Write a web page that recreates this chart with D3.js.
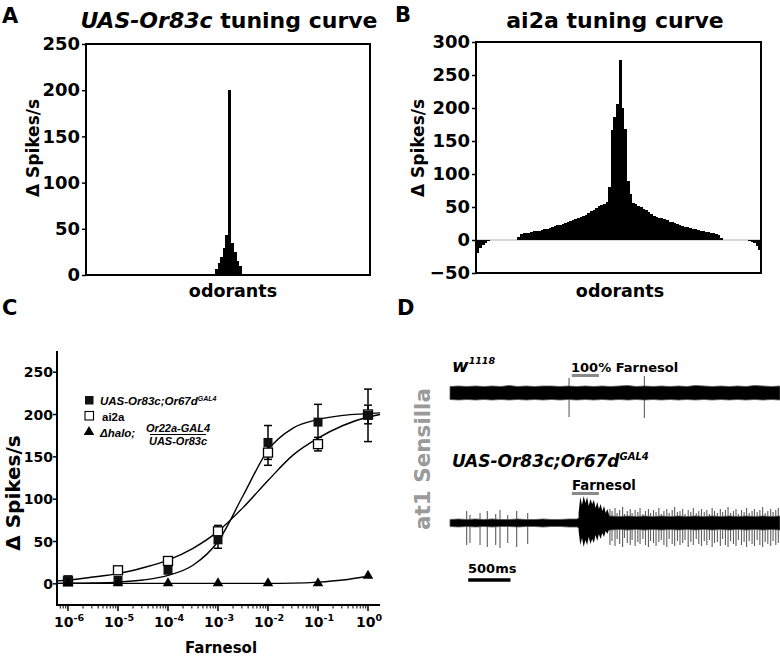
<!DOCTYPE html>
<html><head><meta charset="utf-8">
<script src="https://cdn.jsdelivr.net/npm/d3@7/dist/d3.min.js"></script>
<style>
html,body{margin:0;padding:0;background:#fff}
svg{display:block}
text{font-family:"DejaVu Sans",sans-serif;font-weight:bold;fill:#000}
</style></head><body>
<svg id="fig" width="780" height="656"></svg>
<script>
// ---------------- DATA ----------------
// Panels A/B: tuning curves (110 odorants, responses sorted high -> low)
const odorantCount = 110;
const or83cResponsesSorted = [200, 43, 35, 29, 25, 20, 15, 13, 10, 6];
const ai2aResponsesSorted = [
  273,206,200,186,168,167,90,80,70,57,
  56,55,54,53,52,51,50,48,47,46,
  45,44,43,41,40,38,37,36,35,35,
  34,33,33,32,32,31,30,29,28,27,
  27,26,26,25,24,23,23,22,21,21,
  20,20,19,18,18,17,17,16,16,15,
  15,14,14,14,13,13,12,12,12,11,
  11,11,10,10,9,9,8,4,3,
  0,0,0,0,0,0,0,0,0,0,0,0,0,0,0,0,0,0,0,0,0,
  -1,-2,-3,-4,-5,-7,-9,-12,-15,-19
];
const yTicksA = [0, 50, 100, 150, 200, 250];
const yTicksB = [-50, 0, 50, 100, 150, 200, 250, 300];

// Panel C: dose-response to farnesol
const farnesolConc = [1e-6, 1e-5, 1e-4, 1e-3, 1e-2, 1e-1, 1];
const or83cMean = [5, 4, 16, 52, 167, 191, 199];
const or83cSem  = [2, 2, 3, 10, 20, 21, 31];
const ai2aMean  = [3, 16, 27, 62, 155, 165, 200];
const ai2aSem   = [2, 3, 4, 7, 15, 8, 11];
const haloMean  = [0, 0, 0, 0, 0, 0, 9];
const haloSem   = [0, 0, 0, 0, 0, 0, 1];
// fitted curves (log10 concentration, response)
const fitLogConc = [-6.22,-6,-5.5,-5,-4.5,-4,-3.5,-3,-2.5,-2,-1.5,-1,-0.5,0,0.24];
const or83cFit   = [0.5,0.6,1,2,4.5,10,22,50,104,158,184,194,199,201,202];
const ai2aFit    = [3.5,4.5,8,12,19,28,42,62,90,122,152,172,187,197,200];
const haloFitLogConc = [-6.22,-5,-4,-3,-2,-1.5,-1,-0.5,0];
const haloFit        = [0.5,0.5,0.5,0.5,0.5,0.8,2,4.5,9];
const xTickExponents = [-6,-5,-4,-3,-2,-1,0];
const yTicksC = [0, 50, 100, 150, 200, 250];

// Panel D: recordings (time in ms, amplitudes in arbitrary units)
const traceTimes = d3.range(0, 4000, 100);
const trace1Upper = [6.5,7,6.5,7,6.5,7,6.5,7.5,6.5,7,6.5,7,7,6.5,7,6.5,7,6.5,7,6.5,7,7.5,6.5,7,6.5,7,6.5,7,6.5,7.5,7,6.5,7,6.5,7,6.5,7.5,7,6.5,7];
const trace1Lower = [-6.5,-7,-6.5,-7,-6.5,-7,-6.5,-7,-6.5,-7,-6.5,-7,-6.5,-7,-6.5,-7,-6.5,-7,-6.5,-7,-6.5,-7,-6.5,-7,-6.5,-7,-6.5,-7,-6.5,-7,-6.5,-7,-6.5,-7,-6.5,-7,-6.5,-7,-6.5,-7];
const trace1Spikes = [[1407,15,-24],[2297,17,-25]];
const trace2Upper = [3.5,4,3.5,4,3.5,4,3.5,3.5,4,3.5,3.5,4,3.5,3.5,4,4,8,8,7,7,6.5,7,6.5,7,6.5,7,6.5,7,6.5,7,6.5,7,6.5,7,6.5,7,6.5,7,6.5,7];
const trace2Lower = [-3.5,-4,-3.5,-4,-3.5,-4,-3.5,-3.5,-4,-3.5,-3.5,-4,-3.5,-3.5,-4,-4,-8,-8,-7,-7,-6.5,-7,-6.5,-7,-6.5,-7,-6.5,-7,-6.5,-7,-6.5,-7,-6.5,-7,-6.5,-7,-6.5,-7,-6.5,-7];
const burstTimes = [1520,1540,1560,1580,1600,1620,1640,1660,1680,1700,1720,1740,1760,1780,1800,1820,1840,1860,1880];
const burstUpper = [10,26,18,27,20,26,17,24,19,23,15,21,14,19,12,17,10,14,8];
const burstLower = [-8,-22,-15,-24,-17,-22,-14,-21,-16,-20,-12,-18,-11,-16,-10,-14,-8,-11,-6];
const trace2Spikes = [
  [197,12,-22],[236,8,-20],[355,10,-22],[441,12,-24],[540,9,-22],[591,13,-25],[682,8,-20],[788,12,-24],[918,10,-21],
  [1890,14,-22],[1915,12,-18],[1950,15,-23],[1975,10,-16],[2005,13,-21],[2040,16,-24],[2062,9,-15],[2095,12,-20],
  [2130,14,-22],[2152,10,-17],[2188,13,-23],[2220,11,-19],[2246,15,-21],[2280,9,-16],[2310,12,-22],[2345,14,-24],
  [2370,10,-18],[2405,13,-20],[2435,11,-23],[2468,15,-19],[2497,9,-17],[2528,12,-22],[2562,14,-24],[2590,10,-16],
  [2626,13,-21],[2655,16,-23],[2688,11,-18],[2718,12,-22],[2750,14,-20],[2778,9,-17],[2815,13,-24],[2846,11,-19],
  [2876,15,-22],[2910,10,-16],[2940,12,-21],[2972,14,-23],[3005,11,-18],[3035,13,-22],[3066,9,-17],[3098,15,-24],
  [3126,12,-20],[3160,10,-19],[3195,14,-23],[3222,11,-16],[3255,13,-22],[3286,16,-24],[3316,10,-18],[3350,12,-21],
  [3380,14,-23],[3408,9,-17],[3445,13,-22],[3476,11,-19],[3505,15,-24],[3536,10,-18],[3570,12,-21],[3598,14,-23],
  [3630,11,-17],[3662,13,-22],[3695,16,-24],[3725,10,-19],[3756,12,-21],[3790,14,-23],[3818,11,-18],[3850,13,-22],[3880,15,-20]
];
const stimulus = [1440, 1760];
const scaleBar = [215, 715];

// ---------------- DRAWING ----------------
const svg = d3.select("#fig");
const LS = "'Liberation Sans', Arial, sans-serif";
svg.append("rect").attr("width",780).attr("height",656).attr("fill","#fff");

function tuningOrder(sorted, n) {
  const out = new Array(n).fill(0);
  const center = Math.floor(n / 2);
  sorted.forEach((v, r) => {
    const idx = r % 2 === 1 ? center - (r + 1) / 2 : center + r / 2;
    if (idx >= 0 && idx < n) out[idx] = v;
  });
  return out;
}

function drawTuning(cfg) {
  const g = svg.append("g");
  const x = d3.scaleBand().domain(d3.range(odorantCount)).range([cfg.x0, cfg.x1]).padding(0);
  const y = d3.scaleLinear().domain(cfg.domain).range([cfg.y1, cfg.y0]);
  const vals = tuningOrder(cfg.sorted, odorantCount);
  if (cfg.domain[0] < 0) {
    g.append("line").attr("x1", cfg.x0).attr("x2", cfg.x1).attr("y1", y(0)).attr("y2", y(0))
      .attr("stroke", "#b0b0b0").attr("stroke-width", 1.2);
  }
  g.selectAll("rect.bar").data(vals).join("rect").attr("class","bar")
    .attr("x", (d, i) => x(i)).attr("width", x.bandwidth() + 0.8)
    .attr("y", d => y(Math.max(0, d))).attr("height", d => Math.abs(y(d) - y(0)))
    .attr("fill", "#000").attr("shape-rendering", "crispEdges");
  g.append("rect").attr("x", cfg.x0).attr("y", cfg.y0).attr("width", cfg.x1 - cfg.x0).attr("height", cfg.y1 - cfg.y0)
    .attr("fill", "none").attr("stroke", "#000").attr("stroke-width", 2);
  const ax = g.append("g").attr("transform", `translate(${cfg.x0},0)`)
    .call(d3.axisLeft(y).tickValues(cfg.ticks).tickSize(4).tickPadding(2).tickFormat(d3.format("d")));
  ax.select(".domain").remove();
  ax.selectAll("line").attr("stroke", "#000").attr("stroke-width", 1.5);
  ax.selectAll("text").style("font-family", "DejaVu Sans").style("font-weight", "bold").style("font-size", "18px").attr("fill", "#000");
  g.append("text").attr("transform", `translate(${cfg.ylabX},148) rotate(-90)`).attr("text-anchor", "middle")
    .style("font-size", "17px").text("Δ Spikes/s");
  g.append("text").attr("x", cfg.xlabX).attr("y", 297).attr("text-anchor", "middle").style("font-size", "17.5px").text("odorants");
  return g;
}

// Panel A
drawTuning({x0: 86, x1: 370, y0: 44, y1: 275, domain: [0, 250], ticks: yTicksA, sorted: or83cResponsesSorted, ylabX: 39, xlabX: 233});
const tA = svg.append("text").attr("x", 229).attr("y", 28).attr("text-anchor", "middle").style("font-size", "22px");
tA.append("tspan").style("font-style", "italic").text("UAS-Or83c");
tA.append("tspan").text(" tuning curve");
svg.append("text").attr("x", 2).attr("y", 23).style("font-size", "21px").text("A");

// Panel B
drawTuning({x0: 476, x1: 761, y0: 42, y1: 273, domain: [-50, 300], ticks: yTicksB, sorted: ai2aResponsesSorted, ylabX: 424, xlabX: 620});
svg.append("text").attr("x", 615).attr("y", 28).attr("text-anchor", "middle").style("font-size", "22px").text("ai2a tuning curve");
svg.append("text").attr("x", 395).attr("y", 22).style("font-size", "21px").text("B");

// Panel C
svg.append("text").attr("x", 2).attr("y", 315).style("font-size", "21px").text("C");
const gC = svg.append("g");
const xC = d3.scaleLog().domain([Math.pow(10, -6.22), Math.pow(10, 0.24)]).range([57, 380]);
const yC = d3.scaleLinear().domain([-25, 275]).range([605, 351]);
const minor = [];
for (let e = -7; e <= 0; e++) for (let m = 2; m <= 9; m++) { const v = m * Math.pow(10, e); if (v >= xC.domain()[0] && v <= xC.domain()[1]) minor.push(v); }
gC.selectAll("line.minor").data(minor).join("line").attr("class","minor")
  .attr("x1", d => xC(d)).attr("x2", d => xC(d)).attr("y1", 605).attr("y2", 608.5).attr("stroke", "#000").attr("stroke-width", 1);
gC.selectAll("line.major").data(xTickExponents).join("line").attr("class","major")
  .attr("x1", d => xC(Math.pow(10, d))).attr("x2", d => xC(Math.pow(10, d))).attr("y1", 605).attr("y2", 611).attr("stroke", "#000").attr("stroke-width", 1.5);
const xl = gC.selectAll("text.xl").data(xTickExponents).join("text").attr("class","xl")
  .attr("x", d => xC(Math.pow(10, d)) + 1).attr("y", 627).attr("text-anchor", "middle").style("font-size", "14px");
xl.append("tspan").text("10");
xl.append("tspan").attr("dy", -6).style("font-size", "9.5px").text(d => String(d));
gC.selectAll("line.yt").data(yTicksC).join("line").attr("class","yt")
  .attr("x1", 53).attr("x2", 57).attr("y1", d => yC(d)).attr("y2", d => yC(d)).attr("stroke", "#000").attr("stroke-width", 1.5);
gC.selectAll("text.yl").data(yTicksC).join("text").attr("class","yl")
  .attr("x", 53).attr("y", d => yC(d)).attr("dy", "0.36em").attr("text-anchor", "end").style("font-size", "14px").text(d => d);
gC.append("line").attr("x1", 57).attr("x2", 57).attr("y1", 351).attr("y2", 605).attr("stroke", "#000").attr("stroke-width", 2);
gC.append("line").attr("x1", 56).attr("x2", 380).attr("y1", 605).attr("y2", 605).attr("stroke", "#000").attr("stroke-width", 2);
gC.append("text").attr("transform", "translate(20,493) rotate(-90)").attr("text-anchor", "middle").style("font-size", "20px").text("Δ Spikes/s");
gC.append("text").attr("x", 221).attr("y", 653).attr("text-anchor", "middle").style("font-size", "15px").text("Farnesol");

const lineC = d3.line().x(d => xC(Math.pow(10, d[0]))).y(d => yC(d[1])).curve(d3.curveMonotoneX);
[[fitLogConc, or83cFit], [fitLogConc, ai2aFit], [haloFitLogConc, haloFit]].forEach(([xs, ys]) => {
  gC.append("path").attr("d", lineC(xs.map((v, i) => [v, ys[i]]))).attr("fill", "none").attr("stroke", "#000").attr("stroke-width", 1.4);
});
function errorBars(mean, sem) {
  const d = farnesolConc.map((c, i) => ({c, m: mean[i], s: sem[i]})).filter(d => d.s > 1.5);
  gC.selectAll(null).data(d).join("line").attr("x1", d => xC(d.c)).attr("x2", d => xC(d.c))
    .attr("y1", d => yC(d.m - d.s)).attr("y2", d => yC(d.m + d.s)).attr("stroke", "#000").attr("stroke-width", 1.5);
  [-1, 1].forEach(sg => {
    gC.selectAll(null).data(d).join("line").attr("x1", d => xC(d.c) - 4).attr("x2", d => xC(d.c) + 4)
      .attr("y1", d => yC(d.m + sg * d.s)).attr("y2", d => yC(d.m + sg * d.s)).attr("stroke", "#000").attr("stroke-width", 1.5);
  });
}
errorBars(ai2aMean, ai2aSem);
errorBars(or83cMean, or83cSem);
const sq = 9;
gC.selectAll(null).data(farnesolConc).join("rect").attr("x", d => xC(d) - sq / 2).attr("y", (d, i) => yC(ai2aMean[i]) - sq / 2)
  .attr("width", sq).attr("height", sq).attr("fill", "#fff").attr("stroke", "#000").attr("stroke-width", 1.3);
gC.selectAll(null).data(farnesolConc).join("rect").attr("x", d => xC(d) - sq / 2).attr("y", (d, i) => yC(or83cMean[i]) - sq / 2)
  .attr("width", sq).attr("height", sq).attr("fill", "#111");
const tri = d3.symbol().type(d3.symbolTriangle).size(48);
gC.selectAll(null).data(farnesolConc).join("path").attr("d", tri)
  .attr("transform", (d, i) => `translate(${xC(d)},${yC(haloMean[i]) - 0.5})`).attr("fill", "#000");
// legend
gC.append("rect").attr("x", 85).attr("y", 396).attr("width", 8.5).attr("height", 8.5).attr("fill", "#111");
gC.append("rect").attr("x", 85).attr("y", 411.5).attr("width", 8.5).attr("height", 8.5).attr("fill", "#fff").attr("stroke", "#000").attr("stroke-width", 1.1);
gC.append("path").attr("d", tri).attr("transform", "translate(89,432)").attr("fill", "#000");
const l1 = gC.append("text").attr("x", 100).attr("y", 405).style("font-family", LS).style("font-size", "11.5px").style("font-style", "italic");
l1.append("tspan").text("UAS-Or83c;Or67d");
l1.append("tspan").attr("dy", -4).style("font-size", "7px").text("GAL4");
gC.append("text").attr("x", 102).attr("y", 421).style("font-family", LS).style("font-size", "11.5px").text("ai2a");
gC.append("text").attr("x", 100).attr("y", 437).style("font-family", LS).style("font-size", "11.5px").style("font-style", "italic").text("Δhalo;");
gC.append("text").attr("x", 178).attr("y", 431.5).attr("text-anchor", "middle").style("font-family", LS).style("font-size", "11px").style("font-style", "italic").text("Or22a-GAL4");
gC.append("line").attr("x1", 150).attr("x2", 206).attr("y1", 434.5).attr("y2", 434.5).attr("stroke", "#000").attr("stroke-width", 1.2);
gC.append("text").attr("x", 178).attr("y", 445).attr("text-anchor", "middle").style("font-family", LS).style("font-size", "11px").style("font-style", "italic").text("UAS-Or83c");

// Panel D
svg.append("text").attr("x", 397).attr("y", 315).style("font-size", "21px").text("D");
const gD = svg.append("g");
const xD = d3.scaleLinear().domain([0, 3900]).range([450, 780]);
function drawTrace(center, upper, lower, spikes, burst) {
  const y = d3.scaleLinear().domain([-30, 30]).range([center + 30, center - 30]);
  gD.selectAll(null).data(spikes).join("line").attr("x1", d => xD(d[0])).attr("x2", d => xD(d[0]))
    .attr("y1", d => y(d[1])).attr("y2", d => y(d[2])).attr("stroke", "#5e5e5e").attr("stroke-width", 1.1);
  const area = d3.area().x(d => xD(d[0])).y0(d => y(d[2])).y1(d => y(d[1]));
  gD.append("path").attr("d", area(traceTimes.map((t, i) => [t, upper[i], lower[i]])))
    .attr("fill", "#000").attr("stroke", "#555").attr("stroke-width", 0.8);
  if (burst) gD.append("path").attr("d", area(burstTimes.map((t, i) => [t, burstUpper[i], burstLower[i]]))).attr("fill", "#000");
}
drawTrace(393, trace1Upper, trace1Lower, trace1Spikes, false);
drawTrace(523, trace2Upper, trace2Lower, trace2Spikes, true);
gD.append("line").attr("x1", xD(stimulus[0])).attr("x2", xD(stimulus[1])).attr("y1", 375.5).attr("y2", 375.5).attr("stroke", "#8a8a8a").attr("stroke-width", 3);
gD.append("line").attr("x1", xD(stimulus[0])).attr("x2", xD(stimulus[1])).attr("y1", 493.5).attr("y2", 493.5).attr("stroke", "#8a8a8a").attr("stroke-width", 3);
const w = gD.append("text").attr("x", 452).attr("y", 372).style("font-size", "18px").style("font-style", "italic");
w.append("tspan").text("w");
w.append("tspan").attr("dy", -8).style("font-size", "9.5px").text("1118");
gD.append("text").attr("x", 571).attr("y", 372).style("font-size", "13px").text("100% Farnesol");
const u = gD.append("text").attr("x", 452).attr("y", 467).style("font-size", "17px").style("font-style", "italic");
u.append("tspan").text("UAS-Or83c;Or67d");
u.append("tspan").attr("dy", -7).style("font-size", "10px").text("GAL4");
gD.append("text").attr("x", 572).attr("y", 490).style("font-size", "13.3px").text("Farnesol");
gD.append("text").attr("x", 468).attr("y", 573).style("font-size", "13px").text("500ms");
gD.append("line").attr("x1", xD(scaleBar[0])).attr("x2", xD(scaleBar[1])).attr("y1", 580).attr("y2", 580).attr("stroke", "#000").attr("stroke-width", 3.5);
gD.append("text").attr("transform", "translate(430,459) rotate(-90)").attr("text-anchor", "middle")
  .style("font-size", "21.5px").style("fill", "#9a9a9a").text("at1 Sensilla");
</script>
</body></html>
